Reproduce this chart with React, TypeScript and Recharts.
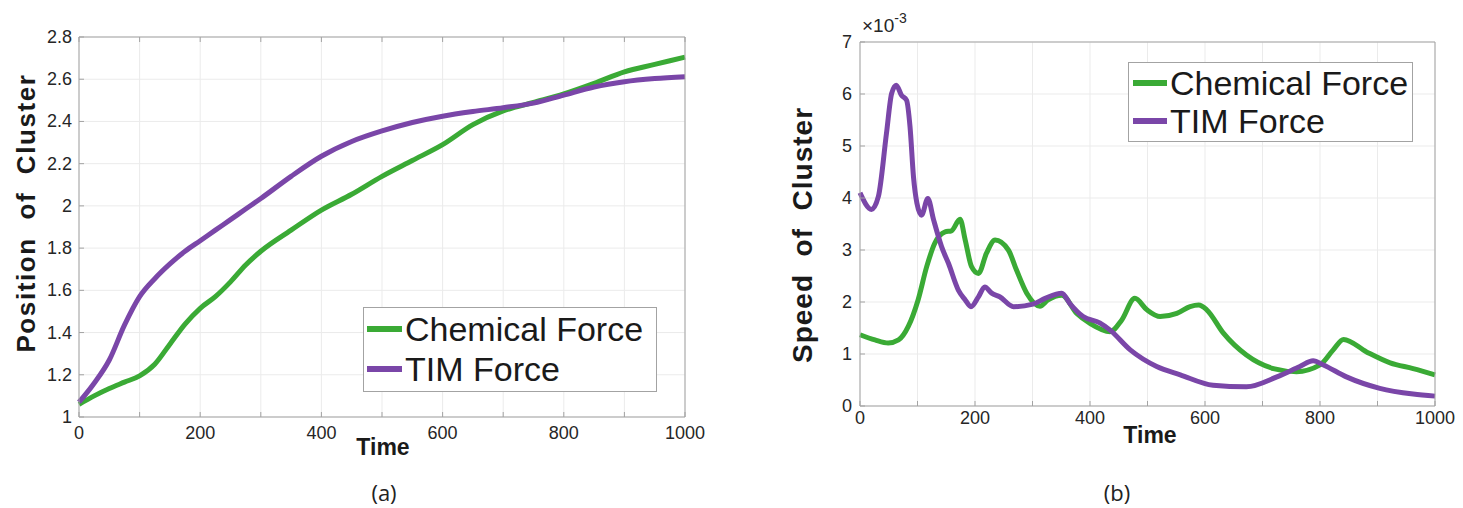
import { LineChart, Line, XAxis, YAxis, CartesianGrid, Legend } from 'recharts';

const GREEN = '#3aaa35';
const PURPLE = '#7a46a8';
const BOX = '#a3a3a3';
const GRID = '#ebebeb';
const INK = '#262626';
const FONT = '"Liberation Sans", Arial, Helvetica, sans-serif';

// (a) position of the cluster over time
const positionTime = [0, 25, 50, 75, 100, 125, 150, 175, 200, 225, 250, 275, 300, 350, 400, 450, 500, 550, 600, 650, 700, 750, 800, 850, 900, 950, 1000];
const positionChemical = [1.06, 1.1, 1.135, 1.165, 1.195, 1.25, 1.345, 1.44, 1.515, 1.57, 1.64, 1.72, 1.785, 1.885, 1.98, 2.055, 2.14, 2.215, 2.29, 2.385, 2.45, 2.49, 2.53, 2.58, 2.635, 2.67, 2.705];
const positionTim = [1.07, 1.16, 1.27, 1.435, 1.57, 1.655, 1.725, 1.785, 1.835, 1.885, 1.935, 1.985, 2.035, 2.14, 2.235, 2.305, 2.355, 2.395, 2.425, 2.447, 2.465, 2.487, 2.525, 2.563, 2.588, 2.603, 2.612];
const positionTicks = [1, 1.2, 1.4, 1.6, 1.8, 2, 2.2, 2.4, 2.6, 2.8];

// (b) speed of the cluster, in units of 1e-3
const chemicalSpeedTime = [0, 26, 49, 67, 84, 101, 116, 130, 148, 159, 174, 183, 194, 206, 220, 235, 258, 272, 290, 313, 327, 351, 377, 400, 435, 455, 478, 499, 522, 551, 574, 589, 603, 632, 672, 719, 759, 800, 823, 841, 881, 922, 962, 1000];
const chemicalSpeed = [1.37, 1.27, 1.21, 1.27, 1.53, 2.04, 2.68, 3.13, 3.35, 3.37, 3.59, 3.19, 2.68, 2.55, 2.94, 3.19, 3.0, 2.62, 2.17, 1.92, 2.04, 2.13, 1.78, 1.59, 1.43, 1.65, 2.07, 1.85, 1.72, 1.78, 1.91, 1.94, 1.85, 1.4, 0.98, 0.72, 0.66, 0.79, 1.08, 1.28, 1.04, 0.83, 0.72, 0.6];
const timSpeedTime = [0, 20, 32, 46, 55, 63, 72, 81, 87, 93, 99, 107, 118, 128, 142, 154, 171, 183, 193, 206, 217, 229, 243, 267, 301, 322, 351, 365, 388, 417, 435, 470, 516, 557, 614, 672, 725, 765, 788, 806, 846, 904, 962, 1000];
const timSpeed = [4.1, 3.78, 4.03, 5.24, 6.01, 6.17, 5.98, 5.88, 5.37, 4.41, 3.9, 3.67, 3.99, 3.58, 3.06, 2.74, 2.23, 2.04, 1.91, 2.1, 2.29, 2.17, 2.1, 1.91, 1.96, 2.07, 2.17, 1.97, 1.72, 1.6, 1.46, 1.08, 0.76, 0.6, 0.4, 0.37, 0.56, 0.76, 0.87, 0.79, 0.56, 0.34, 0.23, 0.19];
const speedTicks = [0, 1, 2, 3, 4, 5, 6, 7];

const timeTicks = [0, 100, 200, 300, 400, 500, 600, 700, 800, 900, 1000];
const TIME_LABEL_STEP = 200;

const positionData = positionTime.map((time, i) => ({
    time,
    chemical: positionChemical[i],
    tim: positionTim[i],
}));
const chemicalSpeedData = chemicalSpeedTime.map((time, i) => ({ time, speed: chemicalSpeed[i] }));
const timSpeedData = timSpeedTime.map((time, i) => ({ time, speed: timSpeed[i] }));

const TICK_LEN = 5;
const TICK_FONT = 18;

// MATLAB-style ticks: marks point into the plot box, labels sit outside
function BottomTick({ x, y, payload, gap }: any) {
    const v = payload.value;
    return (
        <g>
            <line x1={x} x2={x} y1={y} y2={y - TICK_LEN} stroke={BOX} />
            {v % TIME_LABEL_STEP === 0 && (
                <text x={x} y={y + gap} textAnchor="middle" dominantBaseline="central"
                    fontSize={TICK_FONT} fontFamily={FONT} fill={INK}>{v}</text>
            )}
        </g>
    );
}

function LeftTick({ x, y, payload, gap }: any) {
    return (
        <g>
            <line x1={x} x2={x + TICK_LEN} y1={y} y2={y} stroke={BOX} />
            <text x={x - gap} y={y} textAnchor="end" dominantBaseline="central"
                fontSize={TICK_FONT} fontFamily={FONT} fill={INK}>{payload.value}</text>
        </g>
    );
}

const TopTick = ({ x, y }: any) => <line x1={x} x2={x} y1={y} y2={y + TICK_LEN} stroke={BOX} />;
const RightTick = ({ x, y }: any) => <line x1={x} x2={x - TICK_LEN} y1={y} y2={y} stroke={BOX} />;

function ForceLegend({ payload, rowHeight, lineStart, lineWidth, fontSize }: any) {
    return (
        <div style={{
            boxSizing: 'border-box', width: '100%', height: '100%', paddingTop: 1,
            border: `1px solid ${BOX}`, background: '#fff',
        }}>
            {(payload || []).map((entry: any) => (
                <div key={entry.value} style={{ display: 'flex', alignItems: 'center', height: rowHeight }}>
                    <span style={{ display: 'inline-block', width: lineWidth, height: 6, marginLeft: lineStart, marginRight: 3, background: entry.color }} />
                    <span style={{ fontFamily: FONT, fontSize, lineHeight: 1, color: '#1a1a1a', whiteSpace: 'nowrap' }}>{entry.value}</span>
                </div>
            ))}
        </div>
    );
}

// each axis is 1px thick so Recharts still draws it; margins are trimmed by the same amount
const axisCommon = { stroke: BOX, tickLine: false, tickSize: 0, tickMargin: 0, interval: 0 as const };

export default function App() {
    return (
        <div style={{ position: 'absolute', left: 0, top: 0, width: 1463, height: 508, background: '#fff', overflow: 'hidden' }}>
            <div style={{ position: 'absolute', left: 0, top: 0 }}>
                <LineChart width={730} height={508} data={positionData} margin={{ top: 36, right: 44, bottom: 90, left: 78 }}>
                    <CartesianGrid stroke={GRID} />
                    <XAxis dataKey="time" type="number" domain={[0, 1000]} ticks={timeTicks} height={1} {...axisCommon}
                        tick={(p: any) => <BottomTick {...p} gap={16} />} />
                    <XAxis xAxisId="top" orientation="top" dataKey="time" type="number" domain={[0, 1000]} ticks={timeTicks}
                        height={1} {...axisCommon} tick={TopTick} />
                    <YAxis type="number" domain={[1, 2.8]} ticks={positionTicks} width={1} {...axisCommon}
                        tick={(p: any) => <LeftTick {...p} gap={7} />} />
                    <YAxis yAxisId="right" orientation="right" type="number" domain={[1, 2.8]} ticks={positionTicks}
                        width={1} {...axisCommon} tick={RightTick} />
                    <Legend layout="horizontal" align="center" verticalAlign="middle"
                        wrapperStyle={{ left: 363, top: 307, width: 294, height: 85 }}
                        content={(p: any) => <ForceLegend {...p} rowHeight={40} lineStart={3} lineWidth={35} fontSize={34} />} />
                    <Line name="Chemical Force" dataKey="chemical" type="monotone" stroke={GREEN} strokeWidth={5}
                        dot={false} isAnimationActive={false} />
                    <Line name="TIM Force" dataKey="tim" type="monotone" stroke={PURPLE} strokeWidth={5}
                        dot={false} isAnimationActive={false} />
                </LineChart>
            </div>

            <div style={{ position: 'absolute', left: 740, top: 0 }}>
                <LineChart width={723} height={508} margin={{ top: 41, right: 27, bottom: 101, left: 119 }}>
                    <CartesianGrid stroke={GRID} />
                    <XAxis dataKey="time" type="number" domain={[0, 1000]} ticks={timeTicks} height={1} {...axisCommon}
                        tick={(p: any) => <BottomTick {...p} gap={12} />} />
                    <XAxis xAxisId="top" orientation="top" dataKey="time" type="number" domain={[0, 1000]} ticks={timeTicks}
                        height={1} {...axisCommon} tick={TopTick} />
                    <YAxis type="number" domain={[0, 7]} ticks={speedTicks} width={1} {...axisCommon}
                        tick={(p: any) => <LeftTick {...p} gap={8} />} />
                    <YAxis yAxisId="right" orientation="right" type="number" domain={[0, 7]} ticks={speedTicks}
                        width={1} {...axisCommon} tick={RightTick} />
                    <Legend layout="horizontal" align="center" verticalAlign="middle"
                        wrapperStyle={{ left: 388, top: 62, width: 285, height: 80 }}
                        content={(p: any) => <ForceLegend {...p} rowHeight={38} lineStart={4} lineWidth={34} fontSize={34} />} />
                    <Line name="Chemical Force" data={chemicalSpeedData} dataKey="speed" type="monotone" stroke={GREEN}
                        strokeWidth={5} dot={false} isAnimationActive={false} />
                    <Line name="TIM Force" data={timSpeedData} dataKey="speed" type="monotone" stroke={PURPLE}
                        strokeWidth={5} dot={false} isAnimationActive={false} />
                </LineChart>
            </div>

            {/* axis titles, exponent and panel captions */}
            <svg width={1463} height={508} style={{ position: 'absolute', left: 0, top: 0, pointerEvents: 'none' }}>
                <g fontFamily={FONT} fill="#1a1a1a" fontWeight="bold">
                    <text transform="translate(26,213) rotate(-90)" textAnchor="middle" dominantBaseline="central"
                        fontSize={26} letterSpacing={1.6} style={{ whiteSpace: 'pre' }}>Position  of  Cluster</text>
                    <text x={383} y={447} textAnchor="middle" dominantBaseline="central" fontSize={23}>Time</text>
                    <text transform="translate(802,235) rotate(-90)" textAnchor="middle" dominantBaseline="central"
                        fontSize={28} letterSpacing={1} style={{ whiteSpace: 'pre' }}>Speed  of  Cluster</text>
                    <text x={1150} y={435} textAnchor="middle" dominantBaseline="central" fontSize={23}>Time</text>
                </g>
                <text x={862} y={32} fontFamily={FONT} fontSize={19} fill={INK}>
                    ×10<tspan dy={-9} fontSize={14}>-3</tspan>
                </text>
                <g fontFamily='"Open Sans", "Noto Sans", sans-serif' fontSize={22} fill="#222">
                    <text x={384} y={492} textAnchor="middle" dominantBaseline="central">(a)</text>
                    <text x={1117} y={492} textAnchor="middle" dominantBaseline="central">(b)</text>
                </g>
            </svg>
        </div>
    );
}
